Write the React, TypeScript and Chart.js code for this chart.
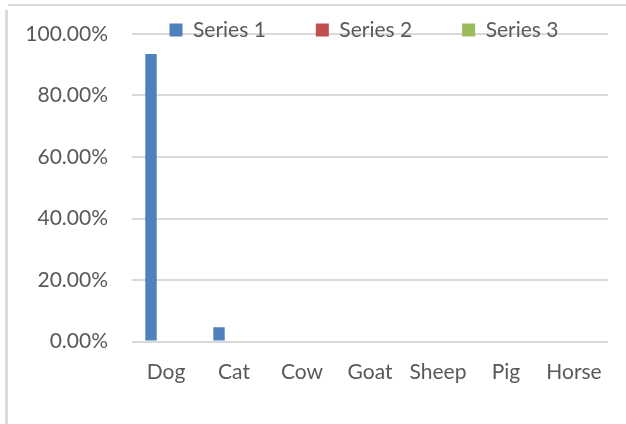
import React, { useEffect, useRef } from 'react';
import { Chart, registerables } from 'chart.js';

Chart.register(...registerables);

const categories = ['Dog', 'Cat', 'Cow', 'Goat', 'Sheep', 'Pig', 'Horse'];
const seriesNames = ['Series 1', 'Series 2', 'Series 3'];
const series1 = [0.935, 0.046, 0, 0, 0, 0, 0];
const series2 = [0, 0, 0, 0, 0, 0, 0];
const series3 = [0, 0, 0, 0, 0, 0, 0];
const yTickValues = [0, 0.2, 0.4, 0.6, 0.8, 1];
const seriesColors = ['#4F81BD', '#C0504D', '#9BBB59'];

const FONT_FAMILY = 'Lato';
const FONT_SIZE = 21;
const TEXT_COLOR = '#595959';
const GRID_COLOR = '#D9D9D9';
const LEGEND_PAD = 50;
const LEGEND_BOX = 13;
const PLOT_TOP = 34;

const legendShift = {
  id: 'legendShift',
  afterLayout(chart: any) {
    const lg = chart.legend;
    if (!lg) return;
    const itemH = Math.max(FONT_SIZE, LEGEND_BOX);
    const cur = lg.top + LEGEND_PAD + itemH / 2;
    const dy = 30 - cur;
    const curCenter = (lg.left + lg.right) / 2;
    const dx = 364 - curCenter;
    lg.top += dy;
    lg.bottom += dy;
    lg.left += dx;
    lg.right += dx;
  },
};

export default function App() {
  const ref = useRef<HTMLCanvasElement | null>(null);

  useEffect(() => {
    if (!ref.current) return;
    const datasets = [series1, series2, series3].map((d, i) => ({
      label: seriesNames[i],
      data: d,
      backgroundColor: seriesColors[i],
      borderWidth: 0,
      categoryPercentage: 0.662,
      barPercentage: 0.76,
    }));
    const chart = new Chart(ref.current, {
      type: 'bar',
      data: { labels: categories, datasets },
      plugins: [legendShift],
      options: {
        animation: false,
        responsive: true,
        maintainAspectRatio: false,
        layout: { padding: { left: 8, right: 18, top: PLOT_TOP - (FONT_SIZE + LEGEND_PAD + 10), bottom: 0 } },
        plugins: {
          tooltip: { enabled: false },
          legend: {
            display: true,
            position: 'top',
            fullSize: true,
            labels: {
              boxWidth: LEGEND_BOX,
              boxHeight: LEGEND_BOX,
              padding: LEGEND_PAD,
              color: TEXT_COLOR,
              font: { family: FONT_FAMILY, size: FONT_SIZE },
            },
          },
        },
        scales: {
          x: {
            grid: { display: false, drawTicks: false },
            border: { display: false },
            ticks: {
              color: TEXT_COLOR,
              font: { family: FONT_FAMILY, size: FONT_SIZE },
              padding: 18,
              maxRotation: 0,
              autoSkip: false,
            },
            afterFit: (s: any) => {
              s.height = 82.5;
              s.paddingLeft = 0;
              s.paddingRight = 0;
            },
          },
          y: {
            min: 0,
            max: 1,
            afterBuildTicks: (s: any) => {
              s.ticks = yTickValues.map((v) => ({ value: v }));
            },
            grid: { color: GRID_COLOR, lineWidth: 2, drawTicks: false },
            border: { display: false },
            ticks: {
              color: TEXT_COLOR,
              font: { family: FONT_FAMILY, size: FONT_SIZE },
              padding: 24,
              callback: (v: any) => (Number(v) * 100).toFixed(2) + '%',
            },
            afterFit: (s: any) => {
              s.width = 124;
              s.paddingTop = 0;
              s.paddingBottom = 0;
            },
          },
        },
      },
    });
    return () => chart.destroy();
  }, []);

  return (
    <div style={{ position: 'absolute', left: 0, top: 0, width: 626, height: 424, background: '#fff' }}>
      <div style={{ position: 'absolute', left: 8, top: 4, right: 0, height: 2, background: '#DADADA' }} />
      <div style={{ position: 'absolute', left: 5, top: 10, bottom: 0, width: 3, background: '#DADADA' }} />
      <div style={{ position: 'absolute', left: 0, top: 0, width: 626, height: 424 }}>
        <canvas ref={ref} />
      </div>
    </div>
  );
}
